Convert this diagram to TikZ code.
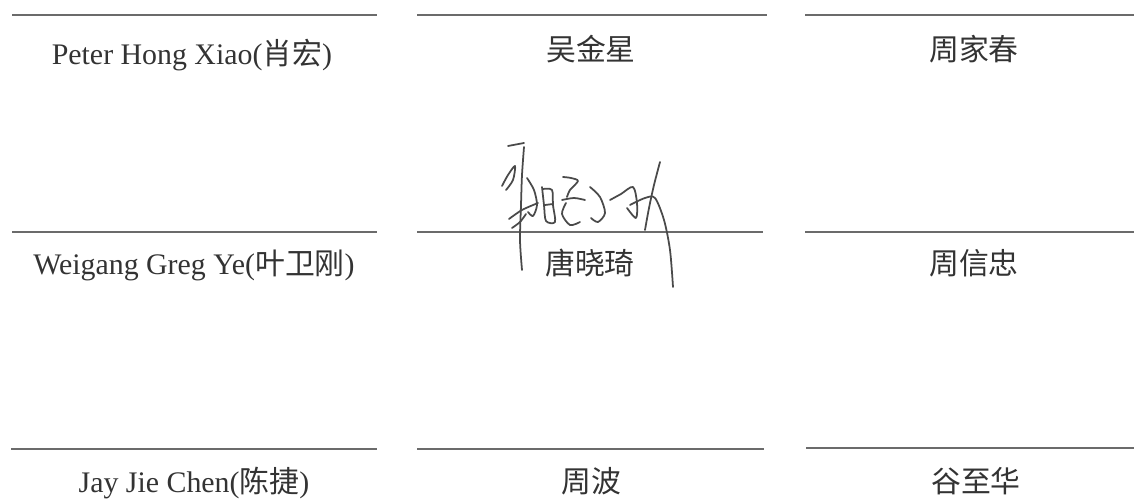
\documentclass[tikz,border=0pt]{standalone}
\usepackage{fontspec}
\setmainfont{Liberation Serif}
\newfontfamily\cjk{Noto Sans CJK SC}
\usepackage{tikz}
\usetikzlibrary{positioning}
\definecolor{ink}{HTML}{333333}
\definecolor{rulegray}{HTML}{6B6B6B}
\definecolor{pengray}{HTML}{4A4A4A}

\begin{document}
\begin{tikzpicture}[x=0.02cm, y=-0.02cm,
  sigline/.style={draw=rulegray, line width=1.1pt},
  signame/.style={anchor=base, text=ink, inner sep=0pt, font=\fontsize{17}{20}\selectfont},
  penstroke/.style={draw=pengray, line width=1pt, line cap=round, line join=round}]
\useasboundingbox (0,0) rectangle (1134,499);

\draw[sigline]
	(12,15) -- (377,15)   (417,15) -- (767,15)   (805,15) -- (1134,15)
	(12,232) -- (377,232) (417,232) -- (763,232) (805,232) -- (1134,232)
	(11,449) -- (377,449) (417,449) -- (764,449) (806,448) -- (1134,448)
;

\node[signame] (A1) at (192,65) {Peter Hong Xiao({\cjk 肖宏})};
\node[signame] (A2) at (591,61) {\cjk 吴金星};
\node[signame] (A3) at (974,61) {\cjk 周家春};
\node[signame] (B1) at (194,275) {Weigang Greg Ye({\cjk 叶卫刚})};
\node[signame] (B2) at (590,275) {\cjk 唐晓琦};
\node[signame] (B3) at (974,275) {\cjk 周信忠};
\node[signame] (C1) at (194,493) {Jay Jie Chen({\cjk 陈捷})};
\node[signame] (C2) at (591,493) {\cjk 周波};
\node[signame] (C3) at (976,493) {\cjk 谷至华};

\draw[penstroke] (508,146) -- (524,143);
\draw[penstroke] plot[smooth] coordinates {(524,147) (522,175) (521,205) (520,240) (522,270)};
\draw[penstroke] plot[smooth] coordinates {(502,186) (508,175) (515,166) (513,180) (506,190)};
\draw[penstroke] plot[smooth] coordinates {(509,219) (522,210) (538,203)};
\draw[penstroke] plot[smooth] coordinates {(512,228) (520,222) (526,214)};
\draw[penstroke] plot[smooth] coordinates {(527,178) (534,190) (537,205) (533,216) (528,212)};
\draw[penstroke] plot[smooth] coordinates {(542,187) (544,205) (546,221) (555,222) (553,205) (552,190) (543,189)};
\draw[penstroke] (545,205) -- (553,204);
\draw[penstroke] plot[smooth] coordinates {(563,177) (571,178) (578,181) (570,190) (567,197)};
\draw[penstroke] plot[smooth] coordinates {(562,200) (574,198) (585,200)};
\draw[penstroke] plot[smooth] coordinates {(566,203) (562,214) (570,225) (580,222)};
\draw[penstroke] plot[smooth] coordinates {(590,187) (600,197) (605,213) (598,222) (591,218)};
\draw[penstroke] plot[smooth] coordinates {(610,200) (621,194) (633,187) (637,203) (636,218) (627,208)};
\draw[penstroke] plot[smooth] coordinates {(660,162) (654,185) (649,208) (645,230)};
\draw[penstroke] plot[smooth] coordinates {(630,205) (645,198) (655,198) (664,220) (670,250) (673,287)};
\end{tikzpicture}
\end{document}
